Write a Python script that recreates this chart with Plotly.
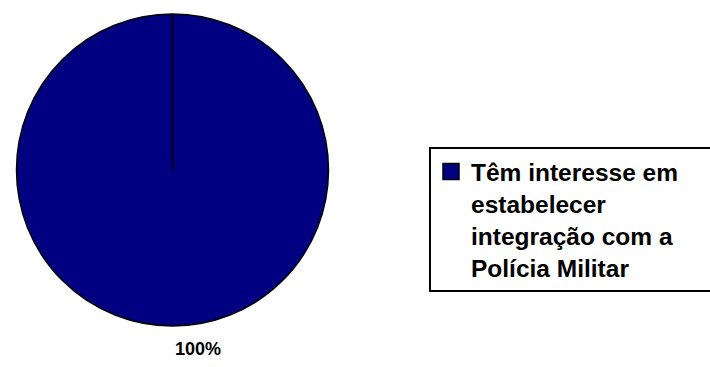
import plotly.graph_objects as go

labels = ["Têm interesse em<br>estabelecer<br>integração com a<br>Polícia Militar"]
values = [100]
colors = ["#000080"]

W, H = 710, 367
dx = [14 / W, 331 / W]
dy = [1 - 326 / H, 1 - 14 / H]

total = sum(values)
pct_text = f"{round(values[0] / total * 100)}%"

fig = go.Figure(go.Pie(
    labels=labels, values=values,
    marker=dict(colors=colors, line=dict(color="black", width=1.5)),
    textinfo="none", sort=False, direction="clockwise", rotation=0,
    domain=dict(x=dx, y=dy), hoverinfo="skip", showlegend=False,
))

# legend entry with a larger square swatch
for lab, col in zip(labels, colors):
    fig.add_trace(go.Scatter(
        x=[None], y=[None], mode="markers", name=lab,
        marker=dict(symbol="square", size=16, color=col, line=dict(color="black", width=1.5)),
        showlegend=True, hoverinfo="skip",
    ))

cx = (dx[0] + dx[1]) / 2
cy = (dy[0] + dy[1]) / 2
r_paper_y = min((dx[1] - dx[0]) * W, (dy[1] - dy[0]) * H) / 2 / H
fig.add_shape(type="line", xref="paper", yref="paper",
              x0=cx, y0=cy, x1=cx, y1=cy + r_paper_y,
              line=dict(color="black", width=1.5))

fig.add_annotation(text=pct_text, xref="paper", yref="paper",
                   x=cx, y=1 - 361 / H, showarrow=False,
                   font=dict(family="Liberation Sans, Arial", size=18, color="black", weight="bold"))

fig.update_layout(
    width=W, height=H,
    margin=dict(l=0, r=0, t=0, b=0, autoexpand=False),
    paper_bgcolor="white", plot_bgcolor="white",
    xaxis=dict(visible=False), yaxis=dict(visible=False),
    showlegend=True,
    legend=dict(
        orientation="h",
        x=429 / W, y=1 - 147 / H, xanchor="left", yanchor="top",
        bordercolor="black", borderwidth=2, bgcolor="white",
        font=dict(family="Liberation Sans, Arial", size=24.5, color="black", weight="bold"),
        valign="top", itemwidth=30, tracegroupgap=0,
        entrywidth=300, entrywidthmode="pixels",
    ),
)

fig.write_html("out.html")
